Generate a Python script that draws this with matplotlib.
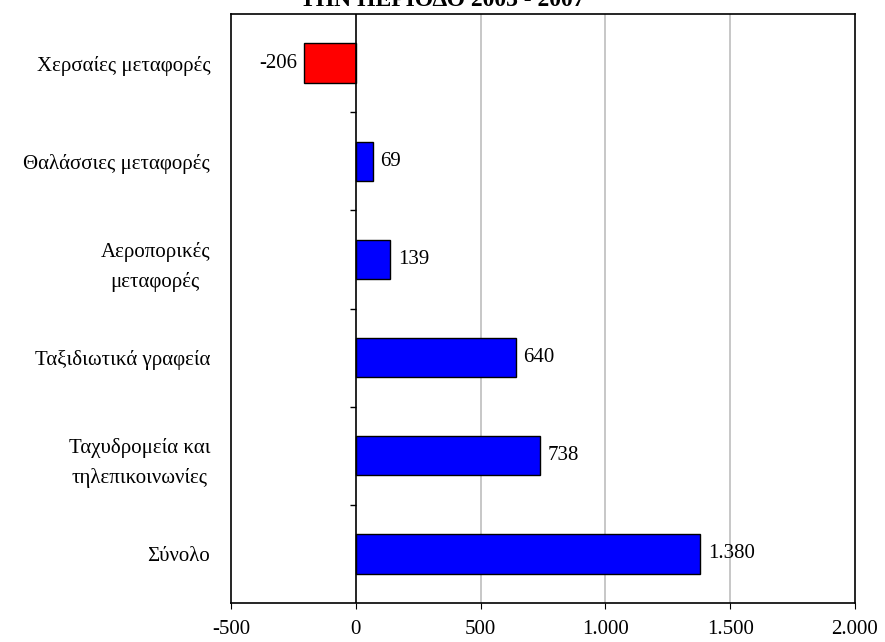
import matplotlib.pyplot as plt
import numpy as np

# data
categories = ['Χερσαίες μεταφορές', 'Θαλάσσιες μεταφορές', 'Αεροπορικές\nμεταφορές',
              'Ταξιδιωτικά γραφεία', 'Ταχυδρομεία και\nτηλεπικοινωνίες', 'Σύνολο']
values = [-206, 69, 139, 640, 738, 1380]
xticks = [-500, 0, 500, 1000, 1500, 2000]
title = 'ΤΗΝ ΠΕΡΙΟΔΟ 2003 - 2007'


def fmt(v):
    return f'{v:,}'.replace(',', '.')


plt.rcParams['font.family'] = ['Liberation Serif', 'DejaVu Serif']
plt.rcParams['font.size'] = 15

fig = plt.figure(figsize=(8.85, 6.42), dpi=100)
ax = fig.add_axes([231 / 885, 1 - 603 / 642, (855 - 231) / 885, (603 - 14) / 642])

y = np.arange(len(categories))
colors = ['#FF0000' if v < 0 else '#0000FF' for v in values]
ax.barh(y, values, height=0.4, color=colors, edgecolor='black', linewidth=1, zorder=3)

ax.set_xlim(xticks[0], xticks[-1])
ax.set_ylim(len(categories) - 0.5, -0.5)
ax.set_xticks(xticks)
ax.set_xticklabels([fmt(t) for t in xticks])
ax.tick_params(axis='x', direction='out', length=4, pad=8, labelsize=15)
ax.set_yticks(y)
ax.set_yticklabels(categories, multialignment='center', linespacing=1.65)
ax.tick_params(axis='y', length=0, pad=15, labelsize=15)

# gridlines
for t in xticks[2:-1]:
    ax.axvline(t, color='#bdbdbd', linewidth=1.2, zorder=1)
ax.axvline(0, color='black', linewidth=1.2, zorder=4)
# small ticks on the zero line between categories
ax.hlines(y[:-1] + 0.5, -25, 0, color='black', linewidth=1, zorder=4)

for s in ax.spines.values():
    s.set_linewidth(1.2)

for yi, v in zip(y, values):
    if v < 0:
        ax.text(v - 30, yi, fmt(v), ha='right', va='center', fontsize=15)
    else:
        ax.text(v + 30, yi, fmt(v), ha='left', va='center', fontsize=15)

fig.text(0.5, 1 - 6 / 642, title, ha='center', va='baseline', fontsize=17, fontweight='bold')

fig.savefig('out.png', dpi=100)
